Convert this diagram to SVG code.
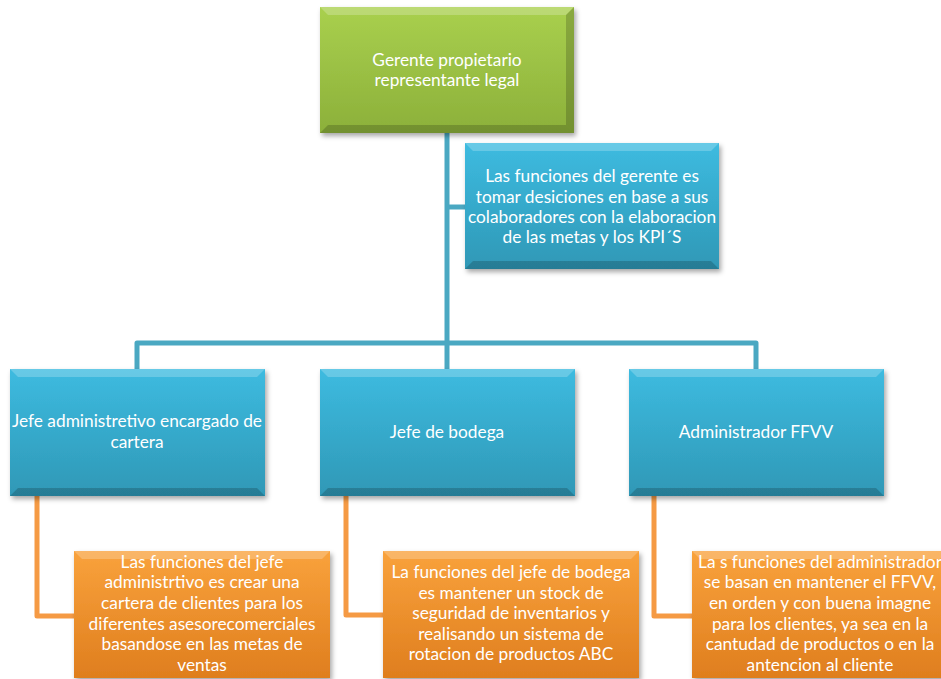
<svg xmlns="http://www.w3.org/2000/svg" width="941" height="679" viewBox="0 0 941 679">
<style>
text{font-family:Lato,"Open Sans","Liberation Sans",sans-serif;font-size:17.3px;fill:#ffffff;text-anchor:middle}
.blue{fill:url(#gBlue)}
.green{fill:url(#gGreen)}
.orange{fill:url(#gOrange)}
.box{filter:url(#shadow)}
.hi{fill:#ffffff;opacity:0.22}
.lo{fill:#000000;opacity:0.18}
.cb{fill:none;stroke:#4aa8c2;stroke-width:5;stroke-linejoin:round}
.co{fill:none;stroke:#f59a44;stroke-width:5;stroke-linejoin:round}
</style>
<defs>
<linearGradient id="gGreen" x1="0" y1="0" x2="0" y2="1"><stop offset="0" stop-color="#a9d04e"/><stop offset="1" stop-color="#8cb03a"/></linearGradient>
<linearGradient id="gBlue" x1="0" y1="0" x2="0" y2="1"><stop offset="0" stop-color="#3dbbe0"/><stop offset="1" stop-color="#2f98b6"/></linearGradient>
<linearGradient id="gOrange" x1="0" y1="0" x2="0" y2="1"><stop offset="0" stop-color="#f9a23c"/><stop offset="1" stop-color="#df7e1e"/></linearGradient>
<filter id="shadow" x="-10%" y="-10%" width="125%" height="130%"><feDropShadow dx="2" dy="3" stdDeviation="2.5" flood-color="#000" flood-opacity="0.35"/></filter>
</defs>
<g id="connectors">
<path class="cb" d="M447,133 V369"/>
<path class="cb" d="M447,207 H466"/>
<path class="cb" d="M137,369 V343 H756 V369"/>
<path class="co" d="M37,496 V616 H75"/>
<path class="co" d="M346,496 V615 H384"/>
<path class="co" d="M654,496 V616 H693"/>
</g>
<g id="gerente">
<rect class="box green" x="320" y="7" width="254" height="126"/>
<path class="hi" d="M320,7 H574 L566,15 H328 Z"/>
<path class="lo" d="M320,133 H574 L566,125 H328 Z"/>
<path class="lo" d="M574,7 V133 L566,125 V15 Z" opacity="0.1"/>
<text x="447" y="66">Gerente propietario</text>
<text x="447" y="86">representante legal</text>
</g>
<g id="funciones-gerente">
<rect class="box blue" x="465" y="143" width="254" height="126"/>
<path class="hi" d="M465,143 H719 L711,151 H473 Z"/>
<path class="lo" d="M465,269 H719 L711,261 H473 Z"/>
<text x="592" y="182">Las funciones del gerente es</text>
<text x="592" y="203">tomar desiciones en base a sus</text>
<text x="592" y="223">colaboradores con la elaboracion</text>
<text x="592" y="243">de las metas y los KPI´S</text>
</g>
<g id="jefe-admin">
<rect class="box blue" x="10" y="369" width="255" height="127"/>
<path class="hi" d="M10,369 H265 L257,377 H18 Z"/>
<path class="lo" d="M10,496 H265 L257,488 H18 Z"/>
<text x="137" y="427">Jefe administretivo encargado de</text>
<text x="137" y="448">cartera</text>
</g>
<g id="jefe-bodega">
<rect class="box blue" x="320" y="369" width="255" height="127"/>
<path class="hi" d="M320,369 H575 L567,377 H328 Z"/>
<path class="lo" d="M320,496 H575 L567,488 H328 Z"/>
<text x="447" y="438">Jefe de bodega</text>
</g>
<g id="admin-ffvv">
<rect class="box blue" x="629" y="369" width="255" height="127"/>
<path class="hi" d="M629,369 H884 L876,377 H637 Z"/>
<path class="lo" d="M629,496 H884 L876,488 H637 Z"/>
<text x="756" y="438">Administrador FFVV</text>
</g>
<g id="funciones-admin">
<rect class="box orange" x="74" y="551" width="256" height="127"/>
<path class="hi" d="M74,551 H330 L322,559 H82 Z"/>
<text x="202" y="568">Las funciones del jefe</text>
<text x="202" y="588">administrtivo es crear una</text>
<text x="202" y="609">cartera de clientes para los</text>
<text x="202" y="630">diferentes asesorecomerciales</text>
<text x="202" y="650">basandose en las metas de</text>
<text x="202" y="671">ventas</text>
</g>
<g id="funciones-bodega">
<rect class="box orange" x="383" y="551" width="256" height="127"/>
<path class="hi" d="M383,551 H639 L631,559 H391 Z"/>
<text x="511" y="578">La funciones del jefe de bodega</text>
<text x="511" y="599">es mantener un stock de</text>
<text x="511" y="619">seguridad de inventarios y</text>
<text x="511" y="640">realisando un sistema de</text>
<text x="511" y="660">rotacion de productos ABC</text>
</g>
<g id="funciones-ffvv">
<rect class="box orange" x="692" y="551" width="256" height="127"/>
<path class="hi" d="M692,551 H948 L940,559 H700 Z"/>
<text x="820" y="568">La s funciones del administrador</text>
<text x="820" y="588">se basan en mantener el FFVV,</text>
<text x="820" y="609">en orden y con buena imagne</text>
<text x="820" y="630">para los clientes, ya sea en la</text>
<text x="820" y="650">cantudad de productos o en la</text>
<text x="820" y="671">antencion al cliente</text>
</g>
</svg>
